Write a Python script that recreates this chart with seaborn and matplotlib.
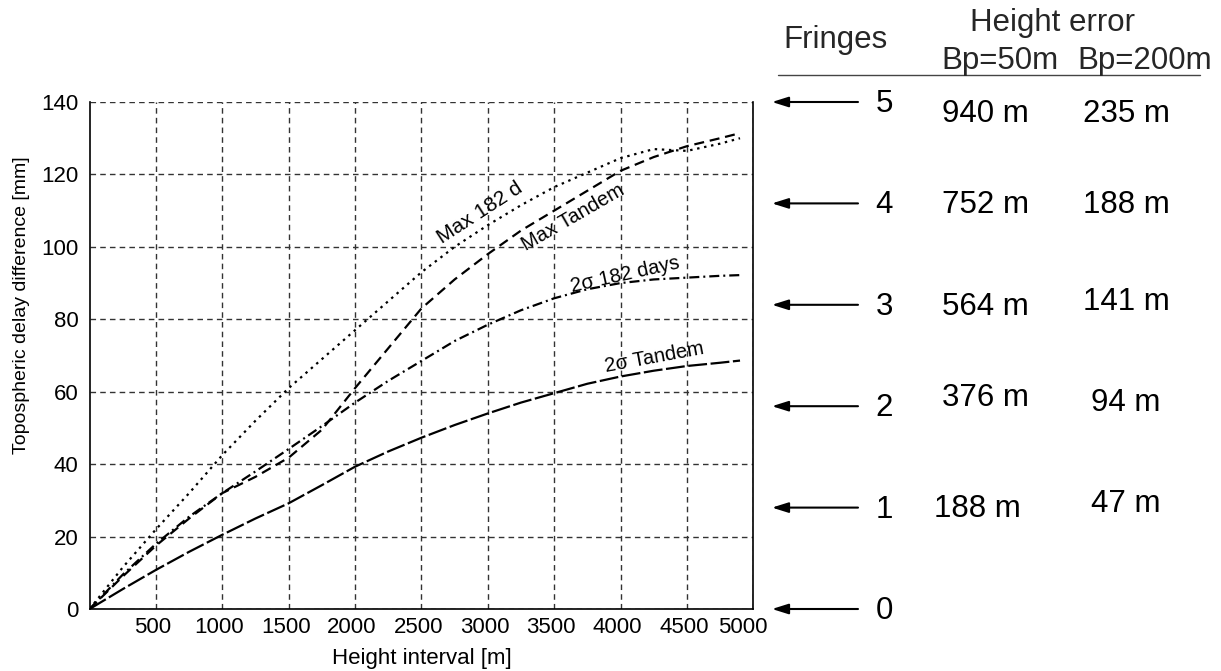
import numpy as np
import pandas as pd
import matplotlib
matplotlib.use("Agg")
import matplotlib.pyplot as plt
import matplotlib.transforms as mtransforms
from matplotlib.lines import Line2D
import seaborn as sns

# ---------------- data ----------------
height_m = [0, 250, 500, 750, 1000, 1250, 1500, 1750, 2000, 2250, 2500,
            2750, 3000, 3250, 3500, 3750, 4000, 4250, 4500, 4750, 4900]
max_182d = [0, 11.5, 22, 32, 42.5, 52, 61, 69, 77, 85, 93,
            100, 106, 111.5, 116.5, 120.5, 124.5, 127, 126.5, 128.5, 130]
max_tandem = [0, 9, 17.5, 25, 32, 36.5, 41.8, 49.5, 61, 72, 83,
              91, 98, 104.5, 110, 115.5, 121, 124.8, 127.8, 130, 131.4]
sigma2_182d = [0, 9.5, 18, 25.5, 32, 38, 44.2, 50.5, 57, 63, 68.5,
               74, 78.5, 82.5, 85.8, 88.3, 90, 91, 91.5, 92, 92.2]
sigma2_tandem = [0, 5.5, 10.8, 15.8, 20.5, 25, 29.2, 34.2, 39.3, 43.5, 47.3,
                 50.8, 54, 57, 59.6, 62.2, 64.2, 65.8, 67.1, 68, 68.6]

series_names = ["Max 182 d", "Max Tandem", "2\u03c3 182 days", "2\u03c3 Tandem"]

x_ticks = [500, 1000, 1500, 2000, 2500, 3000, 3500, 4000, 4500, 5000]
y_ticks = [0, 20, 40, 60, 80, 100, 120, 140]

fringe_numbers = [0, 1, 2, 3, 4, 5]
fringe_mm = 28
err_bp50 = ["", "188 m", "376 m", "564 m", "752 m", "940 m"]
err_bp200 = ["", "47 m", "94 m", "141 m", "188 m", "235 m"]

# ---------------- style ----------------
sns.set_theme(style="white")
plt.rcParams["font.family"] = ["Liberation Sans", "DejaVu Sans"]

W, H = 1221, 671
fig = plt.figure(figsize=(W / 100, H / 100), dpi=100)
ax = fig.add_axes([89.6 / W, 1 - 609 / H, (753.3 - 89.6) / W, (609 - 102) / H])

df = pd.DataFrame({"h": height_m, "max182": max_182d, "maxtan": max_tandem,
                   "s182": sigma2_182d, "stan": sigma2_tandem})

styles = {
    "max182": (0, (1.1, 2.1)),
    "maxtan": (0, (4.5, 2.6)),
    "s182": (0, (4.5, 1.8, 0.9, 1.8)),
    "stan": (0, (8.5, 1.6)),
}
for col, ls in styles.items():
    sns.lineplot(data=df, x="h", y=col, ax=ax, color="black", lw=1.6,
                 linestyle=ls, estimator=None, sort=False)

ax.set_xlim(0, 5000)
ax.set_ylim(0, 140)
ax.set_xticks(x_ticks)
ax.set_yticks(y_ticks)
ax.tick_params(axis="both", direction="in", length=4, width=1,
               labelsize=16, colors="black")
ax.tick_params(axis="x", pad=6)
ax.tick_params(axis="y", pad=8)
ax.grid(True, color="#333333", lw=1, linestyle=(0, (4, 3)))
for s in ["left", "right", "bottom"]:
    ax.spines[s].set_color("black")
    ax.spines[s].set_linewidth(1.2)
ax.spines["top"].set_visible(False)

# x tick labels sit slightly left of their gridlines in the reference
shift = mtransforms.ScaledTranslation(-3 / 100, 0, fig.dpi_scale_trans)
for lab in ax.get_xticklabels():
    lab.set_transform(lab.get_transform() + shift)
last_shift = mtransforms.ScaledTranslation(-7 / 100, 0, fig.dpi_scale_trans)
xl = ax.get_xticklabels()[-1]
xl.set_transform(xl.get_transform() + last_shift)

ax.set_xlabel("Height interval [m]", fontsize=16, labelpad=7, color="black")
ax.set_ylabel("Topospheric delay difference [mm]", fontsize=14, color="black")
ax.yaxis.set_label_coords(-0.09, 0.6)

# line labels
lbl_pos = [(2940, 109.4, 33), (3640, 108, 30), (4031, 92.2, 12.5), (4257, 69.6, 10.5)]
lbl_size = [15, 14.5, 14.5, 14.5]
for name, (lx, ly, rot), fs in zip(series_names, lbl_pos, lbl_size):
    ax.text(lx, ly, name, fontsize=fs, rotation=rot, ha="center", va="center",
            rotation_mode="anchor", color="black")

# ---------------- right-hand fringe table ----------------
trans = mtransforms.blended_transform_factory(fig.transFigure, ax.transData)
dy50 = [0, -1, -10, 0, 0, 10]
dx50 = [0, -8, 0, 0, 0, 0]
dy200 = [0, -6, -5, -5, 0, 10]
FS = 22.5
for n, e50, e200, d50, x50, d200 in zip(fringe_numbers, err_bp50, err_bp200,
                                        dy50, dx50, dy200):
    yv = n * fringe_mm
    ax.annotate("", xy=(772 / W, yv), xytext=(858 / W, yv), xycoords=trans,
                textcoords=trans, annotation_clip=False,
                arrowprops=dict(arrowstyle="-|>,head_length=0.7,head_width=0.22",
                                mutation_scale=14, color="black", lw=1.5,
                                shrinkA=0, shrinkB=0))
    ax.annotate(str(n), xy=(884 / W, yv), xycoords=trans, xytext=(0, -2),
                textcoords="offset pixels", ha="center", va="center",
                fontsize=FS, annotation_clip=False, color="black")
    if e50:
        ax.annotate(e50, xy=(985 / W, yv), xycoords=trans, xytext=(x50, -d50 - 2),
                    textcoords="offset pixels", ha="center", va="center",
                    fontsize=FS, annotation_clip=False, color="black")
    if e200:
        ax.annotate(e200, xy=(1126 / W, yv), xycoords=trans, xytext=(0, -d200 - 2),
                    textcoords="offset pixels", ha="center", va="center",
                    fontsize=FS, annotation_clip=False, color="black")

fig.text(835 / W, 1 - 40 / H, "Fringes", fontsize=FS, ha="center", va="center")
fig.text(1052 / W, 1 - 23 / H, "Height error", fontsize=FS, ha="center", va="center")
fig.text(1000 / W, 1 - 61 / H, "Bp=50m", fontsize=FS, ha="center", va="center")
fig.text(1145 / W, 1 - 61 / H, "Bp=200m", fontsize=FS, ha="center", va="center")
fig.add_artist(Line2D([778 / W, 1200 / W], [1 - 75 / H, 1 - 75 / H],
                      transform=fig.transFigure, color="#444444", lw=1))

fig.savefig("out.png", dpi=100, facecolor="white")
